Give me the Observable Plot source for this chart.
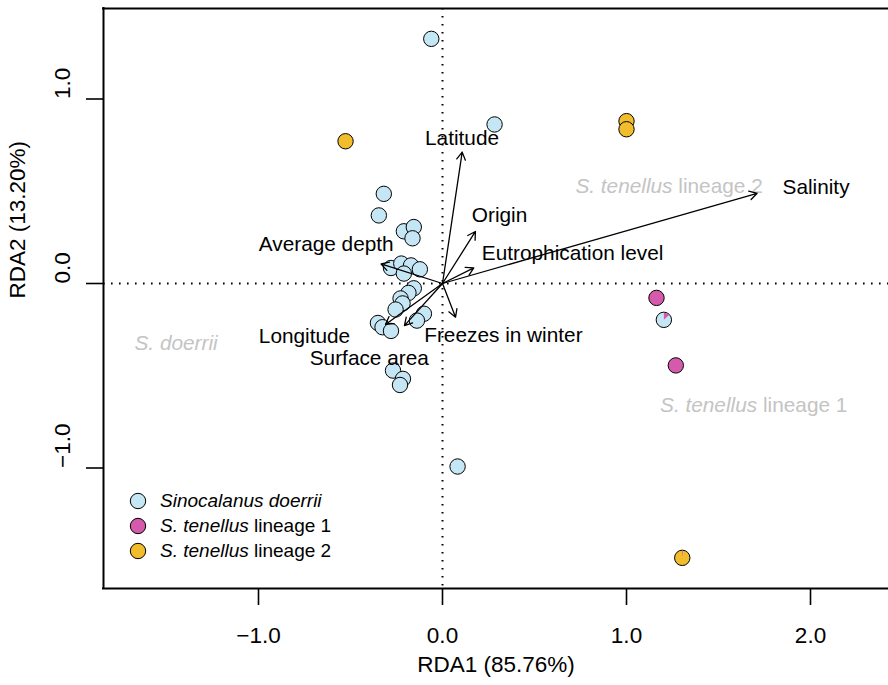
<!DOCTYPE html>
<html><head><meta charset="utf-8">
<script src="https://cdn.jsdelivr.net/npm/d3@7"></script>
<script src="https://cdn.jsdelivr.net/npm/@observablehq/plot@0.6"></script>
<style>
body{margin:0;background:#fff;font-family:"Liberation Sans",Arial,sans-serif;}
#wrap{position:relative;width:888px;height:685px;overflow:hidden;}
#legend{position:absolute;left:129px;top:488px;font-size:19px;color:#000;}
.row{display:flex;align-items:center;height:25px;white-space:nowrap;}
.row svg{margin-right:13px;flex:none;}
</style></head><body><div id="wrap"></div>
<script>
// ---- data (RDA site scores; third value = share of lineage-1 ancestry, if any) ----
const sinocalanusDoerrii = [
  [-0.061, 1.326], [0.283, 0.862], [-0.319, 0.486], [-0.346, 0.369],
  [-0.210, 0.283], [-0.156, 0.306], [-0.163, 0.245], [-0.280, 0.084],
  [-0.224, 0.108], [-0.171, 0.098], [-0.123, 0.077], [-0.210, 0.054],
  [-0.156, -0.026], [-0.185, -0.051], [-0.228, -0.081], [-0.217, -0.108],
  [-0.255, -0.141], [-0.101, -0.164], [-0.139, -0.201], [-0.351, -0.214],
  [-0.326, -0.237], [-0.280, -0.257], [-0.269, -0.472], [-0.215, -0.517],
  [-0.231, -0.550], [0.082, -0.992], [1.203, -0.197, 0.13]
];
const tenellusLineage1 = [[1.163, -0.078], [1.268, -0.444]];
const tenellusLineage2 = [[-0.527, 0.771], [1.000, 0.880], [1.000, 0.836], [1.303, -1.487, 0.02]];

// environmental biplot arrows (tips) and their labels
const envNames = ["Latitude", "Origin", "Eutrophication level", "Salinity",
  "Average depth", "Freezes in winter", "Longitude", "Surface area"];
const envTips = [[0.107, 0.712], [0.179, 0.282], [0.170, 0.085], [1.710, 0.489],
  [-0.334, 0.106], [0.071, -0.183], [-0.310, -0.222], [-0.207, -0.228]];
const envLabelPos = [[0.106, 0.789], [0.310, 0.369], [0.707, 0.161], [2.030, 0.519],
  [-0.632, 0.211], [0.331, -0.282], [-0.750, -0.287], [-0.398, -0.408]];

// group annotations
const groupItalic = ["S. doerrii", "S. tenellus", "S. tenellus"];
const groupPlain = ["", "lineage 2", "lineage 1"];
const groupPos = [[-1.448, -0.325], [1.250, 0.526], [1.710, -0.661]];

const xTicks = [-1, 0, 1, 2];
const yTicks = [-1, 0, 1];
const xLabel = "RDA1 (85.76%)";
const yLabel = "RDA2 (13.20%)";

const colors = {doerrii: "#c5e6f5", l1: "#d65aab", l2: "#f2bd2d"};
const legendItems = [
  {color: colors.doerrii, html: "<i>Sinocalanus doerrii</i>"},
  {color: colors.l1, html: "<i>S. tenellus</i> lineage 1"},
  {color: colors.l2, html: "<i>S. tenellus</i> lineage 2"}
];

// ---- chart ----
const xDomain = [-1.8424, 2.4239];
const yDomain = [-1.6531, 1.4905];
const fmt = d => (d < 0 ? "\u2212" : "") + Math.abs(d).toFixed(1);
const FONT = "Liberation Sans, Arial, sans-serif";

function wedge(frac) {
  return {draw(ctx, size) {
    const r = Math.sqrt(size / Math.PI);
    ctx.moveTo(0, 0); ctx.lineTo(0, -r);
    ctx.arc(0, 0, r, -Math.PI / 2, -Math.PI / 2 + frac * 2 * Math.PI);
    ctx.closePath();
  }};
}

const pts = [
  ...sinocalanusDoerrii.map(d => ({x: d[0], y: d[1], g: "doerrii", p: d[2] || 0})),
  ...tenellusLineage1.map(d => ({x: d[0], y: d[1], g: "l1", p: d[2] || 0})),
  ...tenellusLineage2.map(d => ({x: d[0], y: d[1], g: "l2", p: d[2] || 0}))
];
const arrows = envNames.map((n, i) => ({name: n, x: envTips[i][0], y: envTips[i][1], lx: envLabelPos[i][0], ly: envLabelPos[i][1]}));
const groups = groupItalic.map((t, i) => ({it: t, pl: groupPlain[i], x: groupPos[i][0], y: groupPos[i][1]}));

const wedgeMarks = pts.filter(d => d.p > 0).map(d =>
  Plot.dot([d], {x: "x", y: "y", r: 7.2, symbol: wedge(d.p), fill: colors.l1, stroke: "none"}));

const chart = Plot.plot({
  width: 888, height: 685,
  marginLeft: 103, marginRight: 0, marginTop: 8, marginBottom: 97,
  x: {domain: xDomain, axis: null},
  y: {domain: yDomain, axis: null},
  style: {fontFamily: FONT, background: "white", overflow: "visible"},
  marks: [
    Plot.ruleX([0], {stroke: "black", strokeWidth: 2, strokeDasharray: "1.6 6.4"}),
    Plot.ruleY([0], {stroke: "black", strokeWidth: 2, strokeDasharray: "1.6 6.4"}),
    Plot.axisX({ticks: xTicks, tickSize: 17, tickFormat: () => "", strokeWidth: 1.6, label: null}),
    Plot.axisY({ticks: yTicks, tickSize: 17, tickFormat: () => "", strokeWidth: 1.6, label: null}),
    Plot.ruleX([xDomain[0]], {stroke: "black", strokeWidth: 2, strokeLinecap: "square"}),
    Plot.ruleY(yDomain, {stroke: "black", strokeWidth: 2, strokeLinecap: "square"}),
    Plot.text(xTicks, {x: d => d, frameAnchor: "bottom", dy: 54, text: fmt, fontSize: 22.5, fill: "black"}),
    Plot.text(yTicks, {y: d => d, frameAnchor: "left", dx: -41, rotate: -90, text: fmt, fontSize: 22.5, fill: "black"}),
    Plot.text([xLabel], {frameAnchor: "bottom", dy: 83, text: d => d, fontSize: 22.5, fill: "black"}),
    Plot.text([yLabel], {frameAnchor: "left", dx: -86, rotate: -90, text: d => d, fontSize: 22.5, fill: "black"}),
    // group annotations (gray)
    Plot.text(groups.filter(d => !d.pl), {x: "x", y: "y", text: "it", fontStyle: "italic", fontSize: 20.8, fill: "#c4c4c4"}),
    Plot.text(groups.filter(d => d.pl), {x: "x", y: "y", text: "it", fontStyle: "italic", textAnchor: "end", fontSize: 20.8, fill: "#c4c4c4"}),
    Plot.text(groups.filter(d => d.pl), {x: "x", y: "y", text: "pl", textAnchor: "start", dx: 5.8, fontSize: 20.8, fill: "#c4c4c4"}),
    // points
    Plot.dot(pts, {x: "x", y: "y", r: 7.7, fill: d => colors[d.g], stroke: "black", strokeWidth: 1}),
    ...wedgeMarks,
    // arrows
    Plot.arrow(arrows, {x1: 0, y1: 0, x2: "x", y2: "y", stroke: "black", strokeWidth: 1.3, headLength: 10}),
    Plot.text(arrows, {x: "lx", y: "ly", text: "name", fontSize: 20.8, fill: "black"})
  ]
});

const wrap = document.getElementById("wrap");
wrap.appendChild(chart);
const legend = document.createElement("div");
legend.id = "legend";
legend.innerHTML = legendItems.map(d =>
  `<div class="row"><svg width="18" height="18"><circle cx="9" cy="9" r="7.7" fill="${d.color}" stroke="black" stroke-width="1"/></svg><span>${d.html}</span></div>`
).join("");
wrap.appendChild(legend);
</script></body></html>
